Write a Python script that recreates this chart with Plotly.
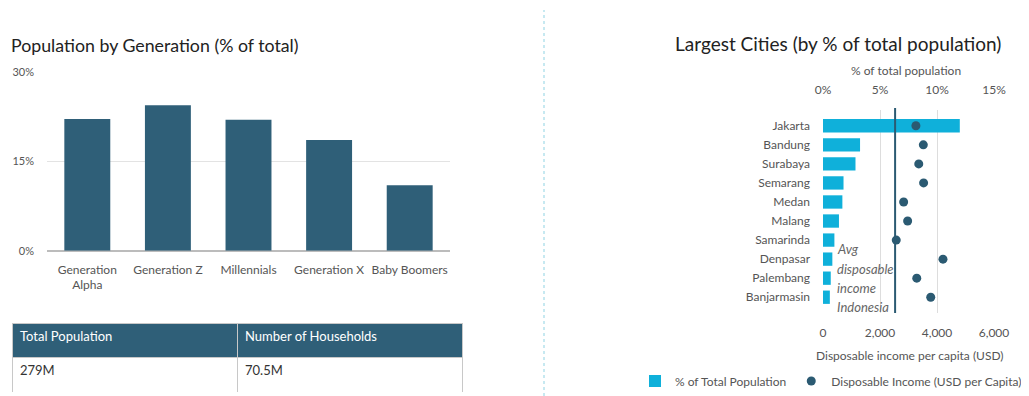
import plotly.graph_objects as go

# ---- Data ----
generations = ["Generation<br>Alpha", "Generation Z", "Millennials", "Generation X", "Baby Boomers"]
generation_share = [22.1, 24.4, 22.0, 18.6, 11.0]

table_headers = ["Total Population", "Number of Households"]
table_values = ["279M", "70.5M"]

cities = ["Jakarta", "Bandung", "Surabaya", "Semarang", "Medan", "Malang",
          "Samarinda", "Denpasar", "Palembang", "Banjarmasin"]
city_pop_share = [12.0, 3.25, 2.85, 1.8, 1.7, 1.4, 1.0, 0.82, 0.68, 0.6]
city_income = [3260, 3520, 3360, 3530, 2830, 2970, 2570, 4210, 3290, 3780]
avg_income = 2530

pop_ticks = [0, 15, 30]
share_ticks = [0, 5, 10, 15]
income_ticks = [0, 2000, 4000, 6000]

DARK = "#2f5f78"
LIGHT = "#0fb0da"
FONT = "Lato"
OFF = 8  # page body margin
W, H = 1029 - OFF, 396 - OFF


def px(x):
    return (x - OFF) / W


def py(y):
    return 1 - (y - OFF) / H


fig = go.Figure()

# Left: bar chart
fig.add_trace(go.Bar(
    x=generations, y=generation_share, marker=dict(color=DARK, line=dict(width=0)),
    xaxis="x", yaxis="y", showlegend=False, hoverinfo="x+y",
))

# Table
fig.add_trace(go.Table(
    domain=dict(x=[px(12), px(462)], y=[py(392), py(323)]),
    columnwidth=[225, 225],
    header=dict(values=table_headers, fill_color=DARK, align="left", height=34,
                font=dict(color="white", size=13, family=FONT),
                line=dict(color="#c8c8c8", width=1)),
    cells=dict(values=[[v] for v in table_values], fill_color="white", align="left", height=35,
               font=dict(color="#333333", size=13, family=FONT),
               line=dict(color="#c8c8c8", width=1)),
))

# Right: horizontal bars
fig.add_trace(go.Bar(
    y=cities, x=city_pop_share, orientation="h", name="% of Total Population",
    marker=dict(color=LIGHT, line=dict(width=0)), xaxis="x2", yaxis="y2", width=0.7,
))
fig.add_trace(go.Scatter(
    y=cities, x=city_income, mode="markers", name="Disposable Income (USD per Capita)",
    marker=dict(color="#2b5a72", size=9), xaxis="x3", yaxis="y2",
))

axis_font = dict(family=FONT, size=12, color="#555555")

fig.update_layout(
    width=W, height=H,
    margin=dict(l=0, r=0, t=0, b=0, autoexpand=False),
    paper_bgcolor="white", plot_bgcolor="white",
    font=dict(family=FONT, color="#444444"),
    bargap=0.43,
    xaxis=dict(domain=[px(47), px(450)], showgrid=False, showline=False, zeroline=False,
               tickfont=axis_font, ticklabelstandoff=10, fixedrange=True, automargin=False),
    yaxis=dict(domain=[py(250.7), py(72)], range=[0, 30], tickvals=pop_ticks,
               ticktext=[f"{v}%" for v in pop_ticks], showgrid=True, gridcolor="#e3e3e3",
               gridwidth=1, zeroline=True, zerolinecolor="#bcbcbc", zerolinewidth=1.5,
               showline=False, tickfont=dict(family=FONT, size=11, color="#555555"),
               ticklabelstandoff=12, automargin=False),
    xaxis2=dict(domain=[px(823), px(994)], range=[0, 15], side="top", anchor="y2",
                tickvals=share_ticks, ticktext=[f"{v}%" for v in share_ticks],
                showgrid=True, gridcolor="#dddddd", zeroline=False, showline=False,
                tickfont=axis_font, ticklabelstandoff=13, automargin=False),
    xaxis3=dict(range=[0, 6000], overlaying="x2", side="bottom", anchor="y2",
                tickvals=income_ticks, ticktext=[f"{v:,}" for v in income_ticks],
                showgrid=False, zeroline=False, showline=False,
                tickfont=axis_font, ticklabelstandoff=11, automargin=False),
    yaxis2=dict(domain=[py(313), py(110)], anchor="x2", autorange="reversed",
                showgrid=False, zeroline=False, showline=False,
                tickfont=axis_font, ticklabelstandoff=12, automargin=False),
    legend=dict(orientation="h", x=px(1027), xanchor="right", y=py(381), yanchor="middle",
                font=dict(family=FONT, size=12, color="#555555"), itemwidth=30,
                bgcolor="rgba(0,0,0,0)", tracegroupgap=0),
    shapes=[
        dict(type="line", xref="paper", yref="paper", x0=px(544), x1=px(544),
             y0=0, y1=py(10), line=dict(color="#8fd3e3", width=1, dash="3px,3px")),
        dict(type="line", xref="x3", yref="paper", x0=avg_income, x1=avg_income,
             y0=py(313), y1=py(108), line=dict(color="#2b5a72", width=2)),
    ],
    annotations=[
        dict(text="Population by Generation (% of total)", xref="paper", yref="paper",
             x=px(9), y=py(45), xanchor="left", yanchor="middle", showarrow=False,
             font=dict(family=FONT, size=17.75, color="#222222")),
        dict(text="Largest Cities (by % of total population)", xref="paper", yref="paper",
             x=px(838), y=py(43), xanchor="center", yanchor="middle", showarrow=False,
             font=dict(family=FONT, size=19, color="#222222")),
        dict(text="% of total population", xref="paper", yref="paper",
             x=px(906), y=py(71), xanchor="center", yanchor="middle", showarrow=False,
             font=axis_font),
        dict(text="Disposable income per capita (USD)", xref="paper", yref="paper",
             x=px(910), y=py(355), xanchor="center", yanchor="middle", showarrow=False,
             font=axis_font),
    ] + [
        dict(text=f"<i>{t}</i>", xref="paper", yref="paper", x=px(835), y=py(yy),
             xanchor="left", yanchor="middle", showarrow=False,
             font=dict(family=FONT, size=13, color="#666666"))
        for t, yy in [("Avg", 249), ("disposable", 269), ("income", 288), ("Indonesia", 307)]
    ],
)

fig.write_html("out.html")
